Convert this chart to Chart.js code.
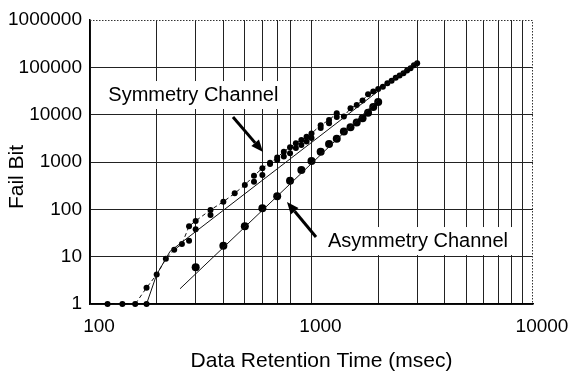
<!DOCTYPE html>
<html>
<head>
<meta charset="utf-8">
<script src="https://cdn.jsdelivr.net/npm/chart.js@4.4.1/dist/chart.umd.min.js"></script>
<style>
  html, body { margin: 0; padding: 0; background: #fff; }
</style>
</head>
<body>
<canvas id="chart" width="581" height="372"></canvas>
<script>
// retention time (msec) -> fail bit count
const symTimes = [120, 140, 160, 180, 200, 220, 240, 260, 280, 300,
  350, 400, 450, 500, 550, 600, 650, 700, 750, 800, 850, 900, 950, 1000,
  1100, 1200, 1300, 1400, 1500, 1600, 1700, 1800, 1900, 2000,
  2100, 2200, 2300, 2400, 2500, 2600, 2700, 2800, 2900, 3000];
// upper row of small dots (joined by the dashed line)
const symUpper = [1, 1, 1, 2.2, 4.2, 9, 14, 18.5, 44, 57,
  97, 145, 218, 327, 514, 736, 960, 1250, 1650, 2050, 2500, 2900, 3400, 4000,
  6000, 7700, 10700, 9200, 13600, 16000, 20000, 27000, 31000, 35000,
  39000, 46000, 52000, 60000, 67000, 75000, 86000, 96000, 110000, 122000];
// lower row where it splits from the upper one
const symLower = [null, null, null, 1, null, null, null, null, 21.7, 38,
  76, null, null, null, 384, 531, 908, 1100, 1300, 1530, 1980, 2300, 2700, 3200,
  5200, 6600, 8900, null, null, null, null, null, null, null,
  null, null, null, null, null, null, null, null, null, null];

const asymTimes = [300, 400, 500, 600, 700, 800, 900, 1000, 1100, 1200,
  1300, 1400, 1500, 1600, 1700, 1800, 1900, 2000];
const asymFail = [6, 17, 44, 105, 190, 400, 680, 1050, 1650, 2400,
  3100, 4400, 5400, 6800, 8400, 11000, 14500, 18500];

// thin guide lines
const symFitTimes = [180, 200, 230, 3000];
const symFitFail = [1, 4.2, 13, 135000];
const asymFitTimes = [255, 2000];
const asymFitFail = [2.1, 20400];

const xTicks = [100, 200, 300, 400, 500, 600, 700, 800, 900,
  1000, 2000, 3000, 4000, 5000, 6000, 7000, 8000, 9000, 10000];
const xLabels = [100, 1000, 10000];
const yTicks = [1, 10, 100, 1000, 10000, 100000, 1000000];

const notes = [
  { text: 'Symmetry Channel', x: 121, y: 26000 },
  { text: 'Asymmetry Channel', x: 1187, y: 21.4 }
];
const arrows = [
  { from: [442, 8900], to: [604, 1630] },
  { from: [1048, 26], to: [775, 143] }
];

const FONT = "'Liberation Sans', Arial, Helvetica, sans-serif";
Chart.defaults.font.family = FONT;
Chart.defaults.color = '#000';

const pts = (xs, ys) => xs.map((x, i) => ({ x: x, y: ys[i] })).filter(p => p.y !== null);

const extras = {
  id: 'extras',
  afterDatasetsDraw(chart) {
    const { ctx, scales: { x, y } } = chart;
    ctx.save();
    ctx.font = '20px ' + FONT;
    ctx.textBaseline = 'middle';
    notes.forEach(n => {
      const px = x.getPixelForValue(n.x), py = y.getPixelForValue(n.y);
      const w = ctx.measureText(n.text).width;
      ctx.fillStyle = '#fff';
      ctx.fillRect(px - 4, py - 14, w + 8, 28);
      ctx.fillStyle = '#000';
      ctx.fillText(n.text, px, py);
    });
    ctx.strokeStyle = '#000';
    ctx.fillStyle = '#000';
    arrows.forEach(a => {
      const x0 = x.getPixelForValue(a.from[0]), y0 = y.getPixelForValue(a.from[1]);
      const x1 = x.getPixelForValue(a.to[0]), y1 = y.getPixelForValue(a.to[1]);
      const ang = Math.atan2(y1 - y0, x1 - x0);
      const hl = 12, hw = 5;
      const bx = x1 - hl * Math.cos(ang), by = y1 - hl * Math.sin(ang);
      ctx.lineWidth = 3;
      ctx.beginPath();
      ctx.moveTo(x0, y0);
      ctx.lineTo(bx, by);
      ctx.stroke();
      ctx.beginPath();
      ctx.moveTo(x1, y1);
      ctx.lineTo(bx + hw * Math.sin(ang), by - hw * Math.cos(ang));
      ctx.lineTo(bx - hw * Math.sin(ang), by + hw * Math.cos(ang));
      ctx.closePath();
      ctx.fill();
    });
    ctx.restore();
  },
  afterDraw(chart) {
    const { ctx, chartArea: { left, right, top, bottom } } = chart;
    ctx.save();
    // dotted frame on top and right
    ctx.strokeStyle = '#333';
    ctx.lineWidth = 1;
    ctx.setLineDash([1.5, 1.5]);
    ctx.beginPath();
    ctx.moveTo(left, top + 0.5);
    ctx.lineTo(right - 0.5, top + 0.5);
    ctx.lineTo(right - 0.5, bottom);
    ctx.stroke();
    ctx.setLineDash([]);
    // axis titles
    ctx.fillStyle = '#000';
    ctx.font = '21px ' + FONT;
    ctx.textAlign = 'center';
    ctx.textBaseline = 'middle';
    ctx.fillText('Data Retention Time (msec)', (left + right) / 2 + 10, bottom + 57);
    ctx.translate(17, (top + bottom) / 2 + 15);
    ctx.rotate(-Math.PI / 2);
    ctx.fillText('Fail Bit', 0, 0);
    ctx.restore();
  }
};

new Chart(document.getElementById('chart'), {
  type: 'scatter',
  data: {
    datasets: [
      {
        data: pts(symFitTimes, symFitFail),
        showLine: true, borderColor: '#111', borderWidth: 1,
        pointRadius: 0, clip: false
      },
      {
        data: pts(asymFitTimes, asymFitFail),
        showLine: true, borderColor: '#111', borderWidth: 1,
        pointRadius: 0, clip: false
      },
      {
        data: pts(symTimes, symUpper),
        showLine: true, borderColor: '#111', borderWidth: 1, borderDash: [4, 3],
        pointRadius: 3, pointBackgroundColor: '#000', pointBorderWidth: 0, clip: false
      },
      {
        data: pts(symTimes, symLower),
        pointRadius: 3, pointBackgroundColor: '#000', pointBorderWidth: 0, clip: false
      },
      {
        data: pts(asymTimes, asymFail),
        pointRadius: 4, pointBackgroundColor: '#000', pointBorderWidth: 0, clip: false
      }
    ]
  },
  options: {
    responsive: false,
    animation: false,
    events: [],
    layout: { padding: { top: 20, right: 48, left: 0, bottom: 0 } },
    plugins: { legend: { display: false }, tooltip: { enabled: false } },
    scales: {
      x: {
        type: 'logarithmic',
        min: 100,
        max: 10000,
        afterBuildTicks: (s) => { s.ticks = xTicks.map(v => ({ value: v })); },
        afterFit: (s) => { s.height = 68; },
        ticks: {
          autoSkip: false,
          maxRotation: 0,
          padding: 11,
          labelOffset: 9,
          font: { size: 19 },
          color: '#000',
          callback: (v) => xLabels.includes(v) ? String(v) : ''
        },
        grid: {
          drawTicks: false,
          lineWidth: 1,
          color: (c) => (c.tick && (c.tick.value === 900 || c.tick.value === 10000)) ? 'rgba(0,0,0,0)' : '#222'
        },
        border: { color: '#000', width: 1.5 }
      },
      y: {
        type: 'logarithmic',
        min: 1,
        max: 1000000,
        afterBuildTicks: (s) => { s.ticks = yTicks.map(v => ({ value: v })); },
        afterFit: (s) => { s.width = 90; },
        ticks: {
          autoSkip: false,
          padding: 8,
          font: { size: 19 },
          color: '#000',
          callback: (v) => String(v)
        },
        grid: {
          drawTicks: false,
          lineWidth: 1,
          color: (c) => (c.tick && c.tick.value === 1000000) ? 'rgba(0,0,0,0)' : '#222'
        },
        border: { color: '#000', width: 1.5 }
      }
    }
  },
  plugins: [extras]
});
</script>
</body>
</html>
